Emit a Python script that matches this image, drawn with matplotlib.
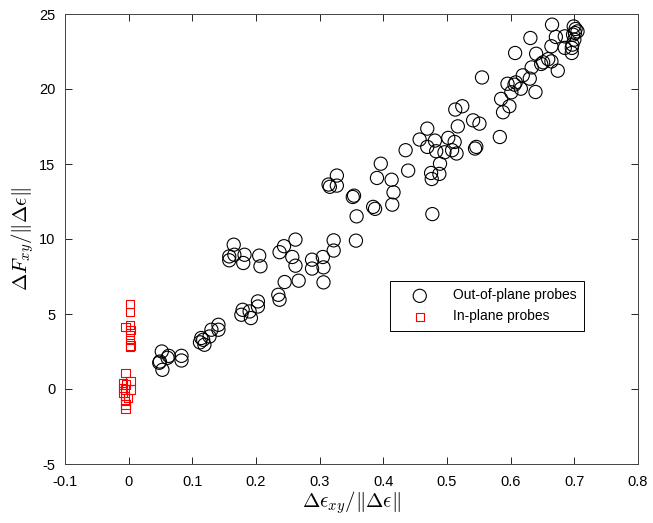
import numpy as np
import matplotlib
matplotlib.use("Agg")
import matplotlib.pyplot as plt

# out-of-plane probes (strain ratio, force ratio)
out_x = [
    0.052, 0.049, 0.053, 0.063, 0.061, 0.083, 0.083, 0.048,
    0.114, 0.112, 0.119, 0.127, 0.141, 0.130, 0.141, 0.117,
    0.179, 0.177, 0.192, 0.190, 0.203, 0.203, 0.235, 0.237,
    0.165, 0.158, 0.158, 0.166, 0.182, 0.180, 0.205, 0.207,
    0.245, 0.267, 0.306,
    0.327, 0.314, 0.316, 0.327, 0.354, 0.352, 0.358, 0.384, 0.387, 0.390,
    0.262, 0.244, 0.237, 0.257, 0.262, 0.288, 0.288, 0.305, 0.306,
    0.322, 0.322, 0.357,
    0.477, 0.396, 0.413, 0.416, 0.414, 0.439, 0.475, 0.476, 0.488, 0.489,
    0.435, 0.457, 0.469, 0.469, 0.481, 0.483, 0.496, 0.502, 0.512, 0.508,
    0.515, 0.513, 0.524, 0.517, 0.541, 0.551, 0.546, 0.544, 0.583, 0.585,
    0.588, 0.598,
    0.665, 0.699, 0.702, 0.705, 0.701, 0.698, 0.700, 0.697, 0.696, 0.696,
    0.685, 0.685, 0.671, 0.664, 0.674, 0.664, 0.659, 0.651, 0.648, 0.640,
    0.631, 0.607, 0.633, 0.630, 0.619, 0.639, 0.616, 0.608, 0.606, 0.595,
    0.601, 0.555,
]
out_y = [
    2.50, 1.83, 1.28, 2.21, 2.08, 2.21, 1.90, 1.75,
    3.40, 3.11, 2.95, 3.50, 4.28, 3.95, 3.95, 3.28,
    5.28, 4.95, 4.73, 5.17, 5.84, 5.50, 6.28, 5.95,
    9.62, 8.84, 8.58, 8.95, 8.95, 8.40, 8.89, 8.18,
    7.13, 7.22, 7.11,
    14.23, 13.63, 13.48, 13.56, 12.89, 12.80, 11.51, 12.14, 12.01, 14.07,
    9.96, 9.52, 9.12, 8.80, 8.22, 8.62, 8.03, 8.80, 8.11,
    9.91, 9.23, 9.89,
    11.66, 15.02, 13.95, 13.11, 12.29, 14.56, 14.40, 14.00, 14.34, 15.02,
    15.92, 16.63, 17.36, 16.14, 16.56, 15.85, 15.78, 16.74, 16.47, 15.92,
    15.70, 18.63, 18.85, 17.51, 17.91, 17.69, 16.14, 16.03, 16.80, 19.34,
    18.45, 18.85,
    24.29, 24.17, 24.00, 23.84, 23.73, 23.62, 23.29, 22.96, 22.74, 22.40,
    22.74, 23.51, 23.47, 22.85, 21.22, 21.84, 21.99, 21.78, 21.67, 22.35,
    23.40, 22.40, 21.44, 20.69, 20.91, 19.80, 20.02, 20.44, 20.29, 20.35,
    19.78, 20.77,
]

# in-plane probes
in_x = [
    0.002, 0.002, -0.005, 0.002, 0.003, 0.002, 0.002, 0.003, 0.002,
    -0.005, -0.009, 0.003, 0.003, -0.006, -0.009, -0.006, -0.006, -0.001,
    -0.005, -0.005, -0.009, -0.004,
]
in_y = [
    5.67, 5.12, 4.13, 4.28, 3.95, 3.62, 3.28, 2.91, 2.79,
    1.07, 0.41, 0.52, -0.03, -0.03, -0.25, -0.48, -0.81, -0.58,
    -1.03, -1.29, 0.08, 0.30,
]

x_ticks = np.arange(-0.1, 0.81, 0.1)
x_labels = ["-0.1", "0", "0.1", "0.2", "0.3", "0.4", "0.5", "0.6", "0.7", "0.8"]
y_ticks = np.arange(-5, 26, 5)

plt.rcParams["font.family"] = ["Liberation Sans", "DejaVu Sans"]
plt.rcParams["mathtext.fontset"] = "cm"

fig = plt.figure(figsize=(6.53, 5.23), dpi=100)
ax = fig.add_axes([65 / 653, 59 / 523, 573 / 653, 450 / 523])

ax.scatter(out_x, out_y, s=90, facecolors="none", edgecolors="black",
           linewidths=0.8, label="Out-of-plane probes")
ax.scatter(in_x, in_y, s=36, marker="s", facecolors="none", edgecolors="red",
           linewidths=0.8, label="In-plane probes")

ax.set_xlim(-0.1, 0.8)
ax.set_ylim(-5, 25)
ax.set_xticks(x_ticks)
ax.set_xticklabels(x_labels)
ax.set_yticks(y_ticks)
ax.set_yticklabels([str(v) for v in y_ticks])
ax.tick_params(direction="in", top=True, right=True, length=5, width=0.6,
               labelsize=10.5, colors="black")
ax.tick_params(axis="x", pad=8)
ax.tick_params(axis="y", pad=7)
for sp in ax.spines.values():
    sp.set_linewidth(0.7)
    sp.set_color("#444444")

ax.set_xlabel(r"$\Delta\epsilon_{xy}/\|\Delta\epsilon\|$", fontsize=15, labelpad=0)
ax.set_ylabel(r"$\Delta F_{xy}/\|\Delta\epsilon\|$", fontsize=15, labelpad=2)

leg = ax.legend(loc="upper left", bbox_to_anchor=(0.567, 0.407), fontsize=10,
                fancybox=False, edgecolor="black", framealpha=1,
                borderaxespad=0, handlelength=3.2, handletextpad=0.8,
                borderpad=0.55)
leg.get_frame().set_linewidth(0.7)

fig.savefig("out.png", dpi=100)
